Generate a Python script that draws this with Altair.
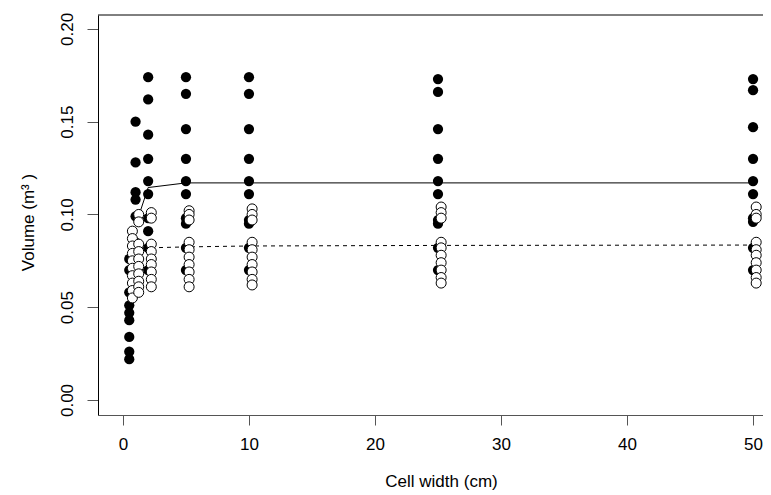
import altair as alt
import pandas as pd

# Cell widths (cm)
cell_widths = [0.5, 1, 2, 5, 10, 25, 50]

# Filled (black) series volumes per cell width (m^3)
filled_05 = [0.076, 0.070, 0.058, 0.051, 0.047, 0.043, 0.034, 0.026, 0.022]
filled_1 = [0.150, 0.128, 0.112, 0.108, 0.099, 0.085, 0.075]
filled_2 = [0.174, 0.162, 0.143, 0.130, 0.118, 0.111, 0.098, 0.091, 0.082, 0.070]
filled_5 = [0.174, 0.165, 0.146, 0.130, 0.118, 0.111, 0.098, 0.095, 0.082, 0.070]
filled_10 = [0.174, 0.165, 0.146, 0.130, 0.118, 0.111, 0.097, 0.095, 0.082, 0.070]
filled_25 = [0.173, 0.166, 0.146, 0.130, 0.118, 0.111, 0.097, 0.095, 0.082, 0.070]
filled_50 = [0.173, 0.167, 0.147, 0.130, 0.118, 0.111, 0.098, 0.096, 0.082, 0.070]

# Open (white) series volumes per cell width (m^3)
open_05 = [0.091, 0.087, 0.083, 0.079, 0.075, 0.071, 0.067, 0.063, 0.059, 0.055]
open_1 = [0.100, 0.096, 0.084, 0.080, 0.076, 0.072, 0.068, 0.064, 0.061, 0.058]
open_2 = [0.101, 0.098, 0.084, 0.080, 0.076, 0.073, 0.069, 0.065, 0.061]
open_5 = [0.102, 0.100, 0.097, 0.085, 0.081, 0.077, 0.073, 0.069, 0.065, 0.061]
open_10 = [0.103, 0.100, 0.097, 0.085, 0.081, 0.077, 0.073, 0.069, 0.065, 0.062]
open_25 = [0.104, 0.101, 0.098, 0.085, 0.082, 0.078, 0.074, 0.070, 0.066, 0.063]
open_50 = [0.104, 0.100, 0.098, 0.085, 0.081, 0.078, 0.074, 0.070, 0.066, 0.063]

# Fitted curves
fit_x = [1, 2, 5, 10, 25, 50]
fit_filled = [0.094, 0.1145, 0.117, 0.117, 0.117, 0.117]
fit_open = [0.080, 0.082, 0.0825, 0.083, 0.0833, 0.0835]

open_offset = 0.25

filled_lists = [filled_05, filled_1, filled_2, filled_5, filled_10, filled_25, filled_50]
open_lists = [open_05, open_1, open_2, open_5, open_10, open_25, open_50]

filled_rows = [{"w": w, "v": v} for w, vals in zip(cell_widths, filled_lists) for v in vals]
open_rows = [{"w": w + open_offset, "v": v} for w, vals in zip(cell_widths, open_lists) for v in vals]
df_filled = pd.DataFrame(filled_rows)
df_open = pd.DataFrame(open_rows)
df_fit = pd.DataFrame({"w": fit_x, "solid": fit_filled, "dashed": fit_open})

W, H = 665, 400
FONT = "Liberation Sans"
FS = 17

xs = alt.Scale(domain=[-1.98, 50.79], nice=False, zero=False)
ys = alt.Scale(domain=[-0.0081, 0.2075], nice=False, zero=False)

xaxis = alt.Axis(
    values=[0, 10, 20, 30, 40, 50], title="Cell width (cm)", grid=False,
    tickSize=10, tickColor="#555", domainColor="#555",
    labelFont=FONT, labelFontSize=FS, labelColor="black", labelPadding=11,
    labelFlush=False, labelOverlap=False,
    titleFont=FONT, titleFontSize=FS, titleFontWeight="normal", titleColor="black",
    titleX=343, titleY=66, titleAlign="center", titleBaseline="middle",
)
yaxis = alt.Axis(
    values=[0, 0.05, 0.1, 0.15, 0.2], format=".2f", title="Volume (m³ )", grid=False,
    tickSize=11, tickColor="#555", domainColor="black",
    labelFont=FONT, labelFontSize=FS, labelColor="black", labelPadding=11,
    labelAngle=270, labelAlign="center", labelBaseline="bottom",
    labelFlush=False, labelOverlap=False,
    titleFont=FONT, titleFontSize=FS, titleFontWeight="normal", titleColor="black",
    titleAngle=270, titleX=-70, titleY=207, titleAlign="center", titleBaseline="middle",
)

solid = alt.Chart(df_fit).mark_line(color="black", strokeWidth=1).encode(
    x=alt.X("w:Q", scale=xs, axis=xaxis),
    y=alt.Y("solid:Q", scale=ys, axis=yaxis),
)
dashed = alt.Chart(df_fit).mark_line(color="black", strokeWidth=1, strokeDash=[4, 4]).encode(
    x=alt.X("w:Q", scale=xs),
    y=alt.Y("dashed:Q", scale=ys),
)
pts_filled = alt.Chart(df_filled).mark_circle(size=105, color="black", opacity=1).encode(
    x=alt.X("w:Q", scale=xs),
    y=alt.Y("v:Q", scale=ys),
)
pts_open = alt.Chart(df_open).mark_circle(
    size=100, fill="white", stroke="black", strokeWidth=1, opacity=1, fillOpacity=1
).encode(
    x=alt.X("w:Q", scale=xs),
    y=alt.Y("v:Q", scale=ys),
)
top_border = alt.Chart(pd.DataFrame({"a": [0]})).mark_rule(color="black", strokeWidth=1).encode(
    y=alt.value(0), x=alt.value(0), x2=alt.value(W)
)

chart = alt.layer(solid, dashed, pts_filled, pts_open, top_border).properties(
    width=W, height=H,
    autosize=alt.AutoSizeParams(type="none"),
    padding={"left": 90, "top": 7, "right": 0, "bottom": 78},
).configure_view(stroke=None)

chart.save("out.html", embed_options={"renderer": "svg", "actions": False})
